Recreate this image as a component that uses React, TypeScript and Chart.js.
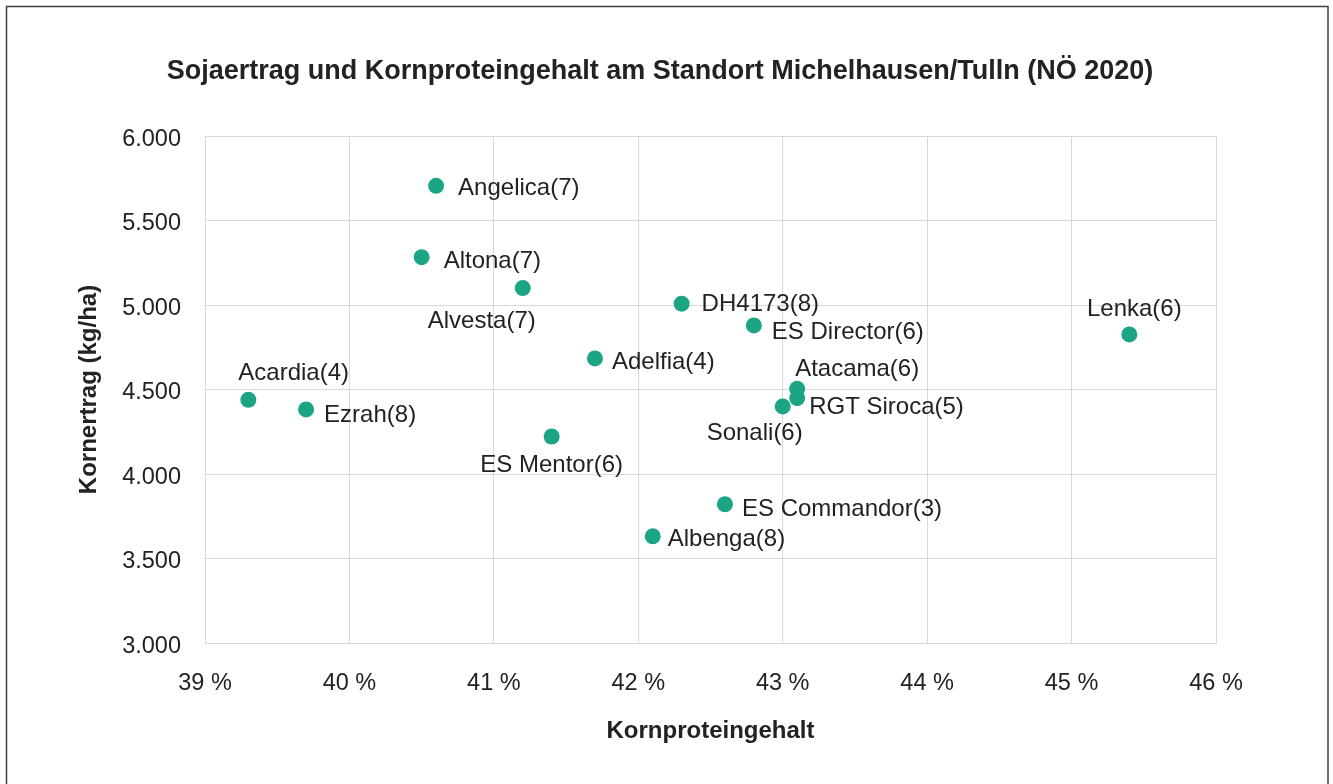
import React, { useEffect, useRef } from "react";
import { Chart, registerables } from "chart.js";

Chart.register(...registerables);

const varieties = [
  "Angelica(7)", "Altona(7)", "Alvesta(7)", "DH4173(8)", "ES Director(6)",
  "Lenka(6)", "Adelfia(4)", "Atacama(6)", "RGT Siroca(5)", "Sonali(6)",
  "Acardia(4)", "Ezrah(8)", "ES Mentor(6)", "ES Commandor(3)", "Albenga(8)",
];
const proteinPct = [40.6, 40.5, 41.2, 42.3, 42.8, 45.4, 41.7, 43.1, 43.1, 43.0, 39.3, 39.7, 41.4, 42.6, 42.1];
const yieldKgHa = [5705, 5283, 5100, 5008, 4879, 4826, 4684, 4504, 4449, 4400, 4439, 4382, 4222, 3821, 3631];

// label placement relative to point (style only)
const labelDx = [22, 22, -41, 20, 18, 5, 17, -2, 12, 20, -10, 18, 0, 17, 15];
const labelDy = [1, 2, 31, -1, 5, -27, 2, -21, 7, 25, -28, 4, 27, 3, 1];
const labelAlign: CanvasTextAlign[] = [
  "left", "left", "center", "left", "left", "center", "left", "left", "left", "right",
  "left", "left", "center", "left", "left",
];

const TITLE = "Sojaertrag und Kornproteingehalt am Standort Michelhausen/Tulln (NÖ 2020)";
const X_TITLE = "Kornproteingehalt";
const Y_TITLE = "Kornertrag (kg/ha)";
const FONT = "'Liberation Sans', Arial, sans-serif";
const TEXT = "#222222";
const GRID = "#d9d9d9";
const POINT = "#1ba585";

const fmtThousands = (v: number) => String(Math.round(v)).replace(/\B(?=(\d{3})+(?!\d))/g, ".");

export default function App() {
  const ref = useRef<HTMLCanvasElement | null>(null);
  useEffect(() => {
    if (!ref.current) return;
    const decor = {
      id: "decor",
      afterDraw(chart: any) {
        const ctx = chart.ctx;
        ctx.save();
        ctx.strokeStyle = "#404040";
        ctx.lineWidth = 1.5;
        ctx.strokeRect(6.5, 6.5, 1321.5, 800);
        ctx.fillStyle = TEXT;
        ctx.font = `bold 27px ${FONT}`;
        ctx.textAlign = "center";
        ctx.textBaseline = "alphabetic";
        ctx.fillText(TITLE, 660, 78.5);
        ctx.restore();
      },
      afterDatasetsDraw(chart: any) {
        const ctx = chart.ctx;
        const meta = chart.getDatasetMeta(0);
        ctx.save();
        ctx.fillStyle = TEXT;
        ctx.font = `24px ${FONT}`;
        ctx.textBaseline = "alphabetic";
        meta.data.forEach((pt: any, i: number) => {
          ctx.textAlign = labelAlign[i];
          ctx.fillText(varieties[i], pt.x + labelDx[i], pt.y + labelDy[i] + 8.6);
        });
        ctx.restore();
      },
    };
    const chart = new Chart(ref.current, {
      type: "scatter",
      data: {
        datasets: [
          {
            data: proteinPct.map((x, i) => ({ x, y: yieldKgHa[i] })),
            backgroundColor: POINT,
            borderColor: POINT,
            borderWidth: 0,
            pointRadius: 8,
            pointHoverRadius: 8,
          },
        ],
      },
      options: {
        responsive: false,
        animation: false,
        events: [],
        layout: { padding: { top: 136, left: 0, right: 117, bottom: 0 } },
        plugins: { legend: { display: false }, title: { display: false }, tooltip: { enabled: false } },
        scales: {
          x: {
            type: "linear",
            min: 39,
            max: 46,
            afterFit: (s: any) => { s.height = 141; },
            ticks: {
              stepSize: 1,
              padding: 26,
              color: TEXT,
              font: { family: FONT, size: 23.5 },
              callback: (v: any) => `${v} %`,
            },
            grid: { color: GRID, drawTicks: false, lineWidth: 1 },
            border: { color: GRID, width: 1 },
            title: {
              display: true,
              text: X_TITLE,
              color: TEXT,
              font: { family: FONT, size: 24, weight: "bold" },
              padding: { top: 0, bottom: 38 },
            },
          },
          y: {
            type: "linear",
            min: 3000,
            max: 6000,
            afterFit: (s: any) => { s.width = 205; },
            ticks: {
              stepSize: 500,
              padding: 24,
              labelOffset: 3.5,
              color: TEXT,
              font: { family: FONT, size: 23.5 },
              callback: (v: any) => fmtThousands(Number(v)),
            },
            grid: { color: GRID, drawTicks: false, lineWidth: 1 },
            border: { color: GRID, width: 1 },
            title: {
              display: true,
              text: Y_TITLE,
              color: TEXT,
              font: { family: FONT, size: 24, weight: "bold" },
              padding: { top: 74.5, bottom: 0 },
            },
          },
        },
      },
      plugins: [decor],
    });
    return () => chart.destroy();
  }, []);
  return (
    <div style={{ position: "absolute", left: 0, top: 0, width: 1333, height: 784, background: "#fff" }}>
      <canvas ref={ref} width={1333} height={784} />
    </div>
  );
}
